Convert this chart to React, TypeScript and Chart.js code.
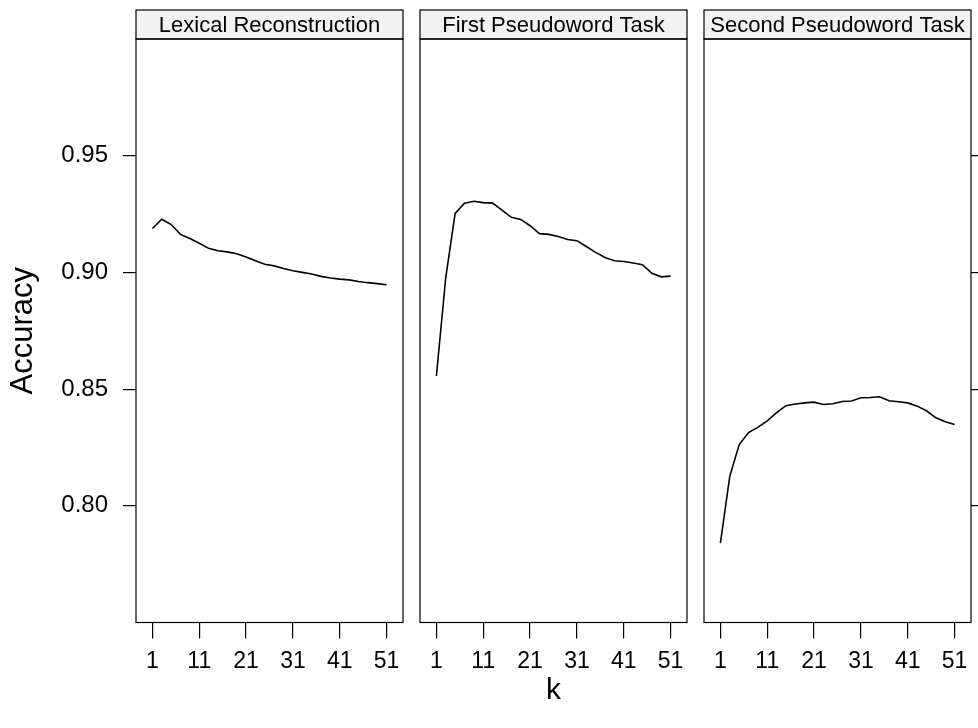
import React, { useEffect, useRef } from "react";
import { Chart, registerables } from "chart.js";

Chart.register(...registerables);

// ---------------- data ----------------
const kValues = [1, 3, 5, 7, 9, 11, 13, 15, 17, 19, 21, 23, 25, 27, 29, 31, 33, 35, 37, 39, 41, 43, 45, 47, 49, 51];

const panelTitles = ["Lexical Reconstruction", "First Pseudoword Task", "Second Pseudoword Task"];

const lexicalAccuracy = [
  0.9188, 0.9228, 0.9205, 0.9163, 0.9145, 0.9125, 0.9103, 0.9093, 0.9088, 0.908,
  0.9066, 0.905, 0.9035, 0.9028, 0.9017, 0.9007, 0.9, 0.8993, 0.8983, 0.8976,
  0.8971, 0.8968, 0.8961, 0.8956, 0.8952, 0.8947,
];

const firstPseudoAccuracy = [
  0.8556, 0.8978, 0.9253, 0.9296, 0.9305, 0.9299, 0.9297, 0.9267, 0.9236, 0.9227,
  0.92, 0.9166, 0.9163, 0.9154, 0.9141, 0.9136, 0.9111, 0.9086, 0.9064, 0.905,
  0.9047, 0.904, 0.9033, 0.8996, 0.8981, 0.8984,
];

const secondPseudoAccuracy = [
  0.784, 0.8126, 0.8261, 0.8314, 0.8336, 0.8364, 0.8399, 0.8429, 0.8436, 0.8441,
  0.8444, 0.8434, 0.8437, 0.8447, 0.8449, 0.8463, 0.8464, 0.8467, 0.845, 0.8446,
  0.8441, 0.8427, 0.8407, 0.8377, 0.836, 0.8348,
];

const xTickValues = [1, 11, 21, 31, 41, 51];
const yTickValues = [0.8, 0.85, 0.9, 0.95];
const yAxisTitle = "Accuracy";
const xAxisTitle = "k";

const panelSeries = [lexicalAccuracy, firstPseudoAccuracy, secondPseudoAccuracy];

// ---------------- layout / style ----------------
const FONT = '"Liberation Sans", Arial, Helvetica, sans-serif';
const H = 728;
const X_MIN = -2.5;
const X_MAX = 54.5;
const Y_MIN = 0.75;
const Y_MAX = 1.0;
const STRIP_TOP = 10;
const AREA_TOP = 39;
const X_AXIS_H = 105.5;

const panelLayout = [
  { left: 0, width: 412, padLeft: 0, padRight: 9, yMode: "left", yWidth: 136, xTitle: false },
  { left: 412, width: 283, padLeft: 8, padRight: 8, yMode: "none", yWidth: 0, xTitle: true },
  { left: 695, width: 283, padLeft: 9, padRight: 0, yMode: "right", yWidth: 7, xTitle: false },
];

const stripPlugin = {
  id: "latticeStrip",
  afterDraw(chart: any, _args: any, opts: any) {
    const { ctx, chartArea } = chart;
    const { left, right, top, bottom } = chartArea;
    ctx.save();
    ctx.fillStyle = "#f2f2f2";
    ctx.fillRect(left, STRIP_TOP, right - left, top - STRIP_TOP);
    ctx.strokeStyle = "#000";
    ctx.lineWidth = 1.2;
    ctx.strokeRect(left, STRIP_TOP, right - left, top - STRIP_TOP);
    ctx.strokeRect(left, top, right - left, bottom - top);
    ctx.fillStyle = "#000";
    ctx.font = `22px ${FONT}`;
    ctx.textAlign = "center";
    ctx.textBaseline = "middle";
    ctx.fillText(opts.title, (left + right) / 2, (STRIP_TOP + top) / 2 + 1);
    ctx.restore();
  },
};

function Panel({ index }: { index: number }) {
  const ref = useRef<HTMLCanvasElement | null>(null);
  const lay = panelLayout[index];

  useEffect(() => {
    if (!ref.current) return;
    const values = panelSeries[index];
    const data = kValues.map((k, i) => ({ x: k, y: values[i] }));

    const yScale: any = {
      type: "linear",
      min: Y_MIN,
      max: Y_MAX,
      position: lay.yMode === "right" ? "right" : "left",
      display: lay.yMode !== "none",
      afterBuildTicks: (s: any) => {
        s.ticks = yTickValues.map((v) => ({ value: v }));
      },
      ticks: {
        display: lay.yMode === "left",
        color: "#000",
        padding: 15,
        font: { family: FONT, size: 24 },
        callback: (v: any) => Number(v).toFixed(2),
      },
      grid: { drawOnChartArea: false, drawTicks: true, tickLength: 13, color: "#000", lineWidth: 1.2 },
      border: { display: false },
      title: {
        display: lay.yMode === "left",
        text: yAxisTitle,
        color: "#000",
        font: { family: FONT, size: 31 },
        padding: { top: 5, bottom: 0 },
      },
      afterFit: (s: any) => {
        s.width = lay.yWidth;
        s.paddingTop = 0;
        s.paddingBottom = 0;
      },
    };

    const chart = new Chart(ref.current, {
      type: "line",
      data: {
        datasets: [
          {
            label: panelTitles[index],
            data,
            borderColor: "#000",
            borderWidth: 1.6,
            pointRadius: 0,
            tension: 0,
            fill: false,
          },
        ],
      },
      options: {
        animation: false,
        responsive: false,
        maintainAspectRatio: false,
        devicePixelRatio: 1,
        layout: { padding: { top: AREA_TOP, bottom: 0, left: lay.padLeft, right: lay.padRight } },
        plugins: {
          legend: { display: false },
          tooltip: { enabled: false },
          latticeStrip: { title: panelTitles[index] },
        } as any,
        scales: {
          x: {
            type: "linear",
            min: X_MIN,
            max: X_MAX,
            afterBuildTicks: (s: any) => {
              s.ticks = xTickValues.map((v) => ({ value: v }));
            },
            ticks: {
              color: "#000",
              padding: 9,
              maxRotation: 0,
              autoSkip: false,
              font: { family: FONT, size: 23 },
              callback: (v: any) => String(v),
            },
            grid: { drawOnChartArea: false, drawTicks: true, tickLength: 16, color: "#000", lineWidth: 1.2 },
            border: { display: false },
            title: {
              display: lay.xTitle,
              text: xAxisTitle,
              color: "#000",
              font: { family: FONT, size: 30 },
              padding: { top: 0, bottom: 19 },
            },
            afterFit: (s: any) => {
              s.height = X_AXIS_H;
              s.paddingLeft = 0;
              s.paddingRight = 0;
            },
          },
          y: yScale,
        },
      },
      plugins: [stripPlugin],
    } as any);
    return () => chart.destroy();
  }, []);

  return (
    <canvas
      ref={ref}
      width={lay.width}
      height={H}
      style={{ position: "absolute", left: lay.left, top: 0, width: lay.width, height: H }}
    />
  );
}

export default function App() {
  return (
    <div style={{ position: "absolute", left: 0, top: 0, width: 978, height: H, background: "#fff" }}>
      {panelTitles.map((_, i) => (
        <Panel key={i} index={i} />
      ))}
    </div>
  );
}
